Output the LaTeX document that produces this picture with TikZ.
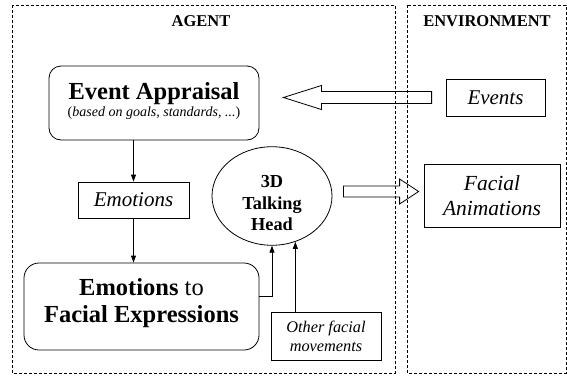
\documentclass[tikz,border=0pt]{standalone}
\usepackage{fontspec}
\setmainfont{Liberation Serif}
\usetikzlibrary{shapes.geometric,arrows.meta}

\begin{document}
\begin{tikzpicture}[x=1pt,y=-1pt,
    frame/.style ={draw, dash pattern=on 3pt off 2pt, line width=0.6pt},
    heading/.style ={font=\fontsize{16.5}{18}\selectfont\bfseries},
    process/.style ={draw, rounded corners=12pt, line width=0.8pt, align=center, inner sep=0pt},
    textbox/.style ={draw, line width=0.8pt, align=center, inner sep=0pt},
    link/.style ={-{Triangle[length=7pt,width=5pt]}, line width=0.8pt},
    hollow/.style ={draw, line width=0.8pt, line join=miter}]
   \useasboundingbox (0,0) rectangle (567,376);
   \draw[frame] (12,5) rectangle (395,373);
   \draw[frame] (407,5) rectangle (566,373);
   \node[heading] (agent) at (201,21) {AGENT};
   \node[heading] (env) at (487,21) {ENVIRONMENT};
   \node[process, minimum width=210pt, minimum height=74pt, font=\fontsize{14}{16.5}\selectfont] (appraisal) at (154,103)
      {{\fontsize{24.5}{16}\selectfont\bfseries Event Appraisal}\\(\textit{based on goals, standards, ...})\rule[-7pt]{0pt}{1pt}};
   \node[textbox, minimum width=99pt, minimum height=37pt, font=\fontsize{21}{24}\selectfont\itshape] (events) at (495.5,97.5) {Events};
   \node[textbox, minimum width=111pt, minimum height=36pt, font=\fontsize{21}{24}\selectfont\itshape] (emotions) at (133.5,200) {Emotions};
   \node[process, rounded corners=15pt, minimum width=235pt, minimum height=87pt, font=\fontsize{24.5}{27}\selectfont] (expr) at (141.5,306.5)
      {\textbf{Emotions} to\\\textbf{Facial Expressions}\rule[-11.5pt]{0pt}{1pt}};
   \node[ellipse, draw, line width=0.8pt, minimum width=120pt, minimum height=92pt, inner sep=0pt, align=center,
      font=\fontsize{18.3}{21.5}\selectfont\bfseries] (head) at (272,196) {\rule{0pt}{26.5pt}3D\\Talking\\Head};
   \node[textbox, minimum width=110pt, minimum height=48pt, font=\fontsize{16.3}{19}\selectfont\itshape] (other) at (326,336) {Other facial\\movements};
   \node[textbox, minimum width=136pt, minimum height=63pt, font=\fontsize{21.5}{25}\selectfont\itshape] (anim) at (492,195.5) {Facial\\Animations};
   \draw[link] (emotions.north |- appraisal.south) -- (emotions.north);
   \draw[link] (emotions.south) -- (emotions.south |- expr.north);
   \draw[link] ([yshift=10pt]expr.east) -| (head.south);
   \coordinate (touch) at (head.-63);
   \draw[link] (touch |- other.north) -- (touch);
   \coordinate (evtip) at ([xshift=24pt]appraisal.east);
   \coordinate (evtail) at ([xshift=-14pt]events.west);
   \path (evtip |- evtail) coordinate (evpoint);
   \draw[hollow] (evpoint) -- ([xshift=38pt,yshift=12pt]evpoint) -- ([xshift=38pt,yshift=6pt]evpoint) -- ([yshift=6pt]evtail)
      -- ([yshift=-6pt]evtail) -- ([xshift=38pt,yshift=-6pt]evpoint) -- ([xshift=38pt,yshift=-12pt]evpoint) -- cycle;
   \coordinate (antail) at ([xshift=11pt,yshift=4.5pt]head.east);
   \coordinate (anend) at ([xshift=-5pt]anim.west);
   \path (anend |- antail) coordinate (antip);
   \draw[hollow] ([yshift=5.5pt]antail) -- ([xshift=-19pt,yshift=5.5pt]antip) -- ([xshift=-19pt,yshift=12.5pt]antip) -- (antip)
      -- ([xshift=-19pt,yshift=-12.5pt]antip) -- ([xshift=-19pt,yshift=-5.5pt]antip) -- ([yshift=-5.5pt]antail) -- cycle;
 \end{tikzpicture}
\end{document}
